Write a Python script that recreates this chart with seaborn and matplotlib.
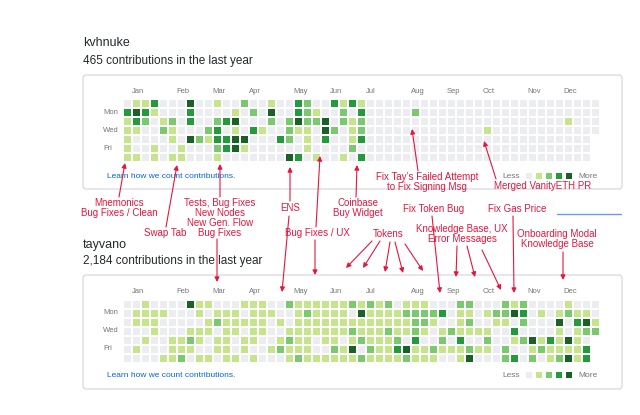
import matplotlib
matplotlib.use("Agg")
import matplotlib.pyplot as plt
import numpy as np
import pandas as pd
import seaborn as sns
from matplotlib.colors import ListedColormap
from matplotlib.patches import FancyBboxPatch

# contribution level per day (0-4), one string per weekday Sun..Sat, one char per week
# '-' = day not reached yet
kvhnuke_rows = [
    "01130004001002001" + "0032003131" + "00000000000000000000000000",
    "34310003000010204" + "0032100203" + "00000200000000000000000000",
    "13201203002340002" + "0242240212" + "00000000000000000000001000",
    "11002100023010310" + "0211042012" + "00000000000001000000000000",
    "10000104213344000" + "3201030013" + "0000000000000000000000000-",
    "10010010002341000" + "0001000020" + "0000000000000000000000000-",
    "11010110001000000" + "0430100103" + "0000000000000000000000000-",
]
tayvano_rows = [
    "0010000411000111" + "002111111" + "2121201110002200021200001000",
    "01111000101110111" + "0012111104" + "11112222" + "301101224301012110",
    "01110000012111110" + "101111111111111" + "221001200110200040341",
    "00010001110110110" + "011111112111211" + "210121111003000010122",
    "00100112101101100" + "1211011012111203" + "0020300200124131410" + "-",
    "01000111001101001" + "211100214021134" + "11211121102001211113" + "-",
    "00001120110110100" + "0121111112111121" + "1100140002302012413" + "-",
]
weekdays = ["Sun", "Mon", "Tue", "Wed", "Thu", "Fri", "Sat"]
day_labels = ["Mon", "Wed", "Fri"]
months = ["Jan", "Feb", "Mar", "Apr", "May", "Jun",
          "Jul", "Aug", "Sep", "Oct", "Nov", "Dec"]
month_weeks = [1, 6, 10, 14, 19, 23, 27, 32, 36, 40, 45, 49]
legend_levels = [[0, 1, 2, 3, 4]]
palette = ["#ebedf0", "#c6e48b", "#7bc96f", "#239a3b", "#196127"]

RED = "#e3173e"
GREY = "#767676"
W, H = 640, 415

sns.set_style("white")
plt.rcParams["font.family"] = ["Liberation Sans", "DejaVu Sans"]

fig = plt.figure(figsize=(6.4, 4.15), dpi=100)
cmap = ListedColormap(palette)


def px_axes(x0, y0, w, h):
    """axes placed in pixel coords, origin top-left"""
    return fig.add_axes([x0 / W, 1 - (y0 + h) / H, w / W, h / H])


def to_frame(rows):
    vals = [[np.nan if c == "-" else int(c) for c in r] for r in rows]
    return pd.DataFrame(vals, index=weekdays)


def draw_calendar(rows, y0):
    ax = px_axes(122.5, y0, 53 * 9, 63)
    sns.heatmap(to_frame(rows), ax=ax, cmap=cmap, vmin=-0.5, vmax=4.5, cbar=False,
                linewidths=1.1, linecolor="white", xticklabels=False, yticklabels=False)
    ax.xaxis.tick_top()
    ax.set_xticks(month_weeks)
    ax.set_xticklabels(months, ha="left", fontsize=5.5, color=GREY)
    ax.set_yticks([1.5, 3.5, 5.5])
    ax.set_yticklabels(day_labels, ha="left", va="center", fontsize=5.5, color=GREY)
    ax.tick_params(axis="x", length=0, pad=3)
    ax.tick_params(axis="y", length=0, pad=14)
    return ax


def draw_legend(y_mid):
    ax = px_axes(524, y_mid - 5, 50, 10)
    sns.heatmap(legend_levels, ax=ax, cmap=cmap, vmin=-0.5, vmax=4.5, cbar=False,
                linewidths=1.6, linecolor="white", xticklabels=False, yticklabels=False)


draw_calendar(kvhnuke_rows, 99.3)
draw_calendar(tayvano_rows, 299.5)
draw_legend(176)
draw_legend(375)

# overlay for headings, boxes and the red notes
ov = px_axes(0, 0, W, H)
ov.set_xlim(0, W)
ov.set_ylim(H, 0)
ov.axis("off")

for top in (75, 275):
    ov.add_patch(FancyBboxPatch((83, top), 539, 114,
                                boxstyle="round,pad=0,rounding_size=3",
                                fc="none", ec="#d1d5da", lw=0.8))

head_kw = dict(color="#24292e", ha="left", va="baseline")
ov.text(83, 46.5, "kvhnuke", fontsize=9, **head_kw)
ov.text(83, 64, "465 contributions in the last year", fontsize=8.5, **head_kw)
ov.text(83, 248, "tayvano", fontsize=9, **head_kw)
ov.text(83, 264, "2,184 contributions in the last year", fontsize=8.5, **head_kw)

for y in (176, 375):
    ov.text(107, y, "Learn how we count contributions.", fontsize=6,
            color="#0366d6", ha="left", va="center")
    ov.text(520, y, "Less", fontsize=6, color=GREY, ha="right", va="center")
    ov.text(578, y, "More", fontsize=6, color=GREY, ha="left", va="center")

notes = [
    ("Mnemonics\nBug Fixes / Clean", 119, 208),
    ("Swap Tab", 165, 233),
    ("Tests, Bug Fixes\nNew Nodes\nNew Gen. Flow\nBug Fixes", 220, 218),
    ("ENS", 290, 208),
    ("Bug Fixes / UX", 317, 233),
    ("Coinbase\nBuy Widget", 358, 208),
    ("Fix Tay\u2019s Failed Attempt\nto Fix Signing Msg", 427, 182),
    ("Merged VanityETH PR", 543, 186),
    ("Fix Token Bug", 434, 209),
    ("Fix Gas Price", 517, 209),
    ("Tokens", 388, 234),
    ("Knowledge Base, UX\nError Messages", 462, 234),
    ("Onboarding Modal\nKnowledge Base", 557, 239),
]
for txt, x, y in notes:
    ov.text(x, y, txt, fontsize=7, color=RED, ha="center", va="center", linespacing=1.0)

arrows = [
    ((119, 197), (125, 163)),
    ((166, 227), (177, 165)),
    ((220, 197), (220, 164)),
    ((217, 239), (217, 282)),
    ((290, 201), (290, 167)),
    ((289, 216), (282, 292)),
    ((316, 227), (320, 156)),
    ((315, 240), (315, 275)),
    ((356, 197), (357, 165)),
    ((418, 171), (412, 129)),
    ((496, 179), (484, 141)),
    ((432, 216), (440, 293)),
    ((513, 216), (514, 293)),
    ((372, 241), (346, 268)),
    ((380, 241), (363, 268)),
    ((390, 242), (385, 272)),
    ((395, 242), (403, 273)),
    ((405, 244), (423, 271)),
    ((457, 246), (456, 277)),
    ((467, 246), (475, 277)),
    ((482, 250), (501, 290)),
    ((563, 252), (563, 280)),
]
for start, tip in arrows:
    ov.annotate("", xy=tip, xytext=start,
                arrowprops=dict(arrowstyle="-|>", color=RED, lw=0.8,
                                mutation_scale=7, shrinkA=0, shrinkB=0))

ov.plot([557, 621], [214, 214], color="#6a9bea", lw=1)

fig.savefig("out.png", dpi=100)
